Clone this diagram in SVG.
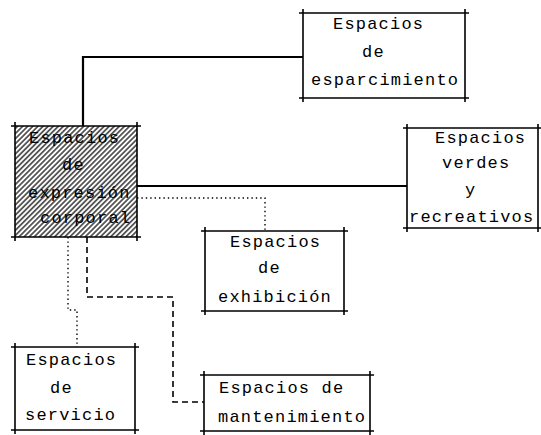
<svg xmlns="http://www.w3.org/2000/svg" width="541" height="435" viewBox="0 0 541 435">
<defs>
<pattern id="hatch" patternUnits="userSpaceOnUse" width="3.6" height="3.6" patternTransform="rotate(45)">
<line x1="0.9" y1="0" x2="0.9" y2="3.6" stroke="#000" stroke-width="1.2"/>
</pattern>
</defs>
<style>
.box{fill:none;stroke:#000;stroke-width:1.6}
.t{font-family:"Liberation Mono","DejaVu Sans Mono",monospace;font-size:17px;letter-spacing:1.2px;fill:#000}
.solid{fill:none;stroke:#000;stroke-width:2.2}
.dot{fill:none;stroke:#000;stroke-width:1.4;stroke-dasharray:1.4 3}
.dash{fill:none;stroke:#000;stroke-width:1.6;stroke-dasharray:6 4}
</style>
<g id="connectors">
<path class="solid" d="M83 126 V57 H303"/>
<path class="solid" d="M137 186 H407"/>
<path class="dot" d="M137 198 H265 V231"/>
<path class="dot" d="M68 237 V310 H77 V347"/>
<path class="dash" d="M87 237 V297 H173 V402 H204"/>
</g>
<g id="expresion">
<rect x="15" y="126" width="122" height="111" fill="url(#hatch)"/>
<path class="box" d="M11 126 H141 M11 237 H141 M15 122 V241 M137 122 V241"/>
<text class="t" x="29" y="143">Espacios</text>
<text class="t" x="62" y="170">de</text>
<text class="t" x="28" y="198">expresión</text>
<text class="t" x="40" y="223">corporal</text>
</g>
<g id="esparcimiento">
<path class="box" d="M299 13 H469 M299 98 H469 M303 9 V102 M465 9 V102"/>
<text class="t" x="333" y="29">Espacios</text>
<text class="t" x="362" y="57">de</text>
<text class="t" x="311" y="85">esparcimiento</text>
</g>
<g id="verdes">
<path class="box" d="M403 128 H541 M403 228 H541 M407 124 V232 M538 124 V232"/>
<text class="t" x="435" y="143">Espacios</text>
<text class="t" x="442" y="168">verdes</text>
<text class="t" x="465" y="195">y</text>
<text class="t" x="409" y="222">recreativos</text>
</g>
<g id="exhibicion">
<path class="box" d="M201 231 H348 M201 311 H348 M205 227 V315 M344 227 V315"/>
<text class="t" x="230" y="247">Espacios</text>
<text class="t" x="258" y="273">de</text>
<text class="t" x="218" y="302">exhibición</text>
</g>
<g id="servicio">
<path class="box" d="M11 347 H139 M11 430 H139 M15 343 V434 M135 343 V434"/>
<text class="t" x="26" y="365">Espacios</text>
<text class="t" x="50" y="393">de</text>
<text class="t" x="25" y="420">servicio</text>
</g>
<g id="mantenimiento">
<path class="box" d="M200 375 H374 M200 431 H374 M204 371 V435 M370 371 V435"/>
<text class="t" x="219" y="393">Espacios de</text>
<text class="t" x="218" y="422">mantenimiento</text>
</g>
</svg>
